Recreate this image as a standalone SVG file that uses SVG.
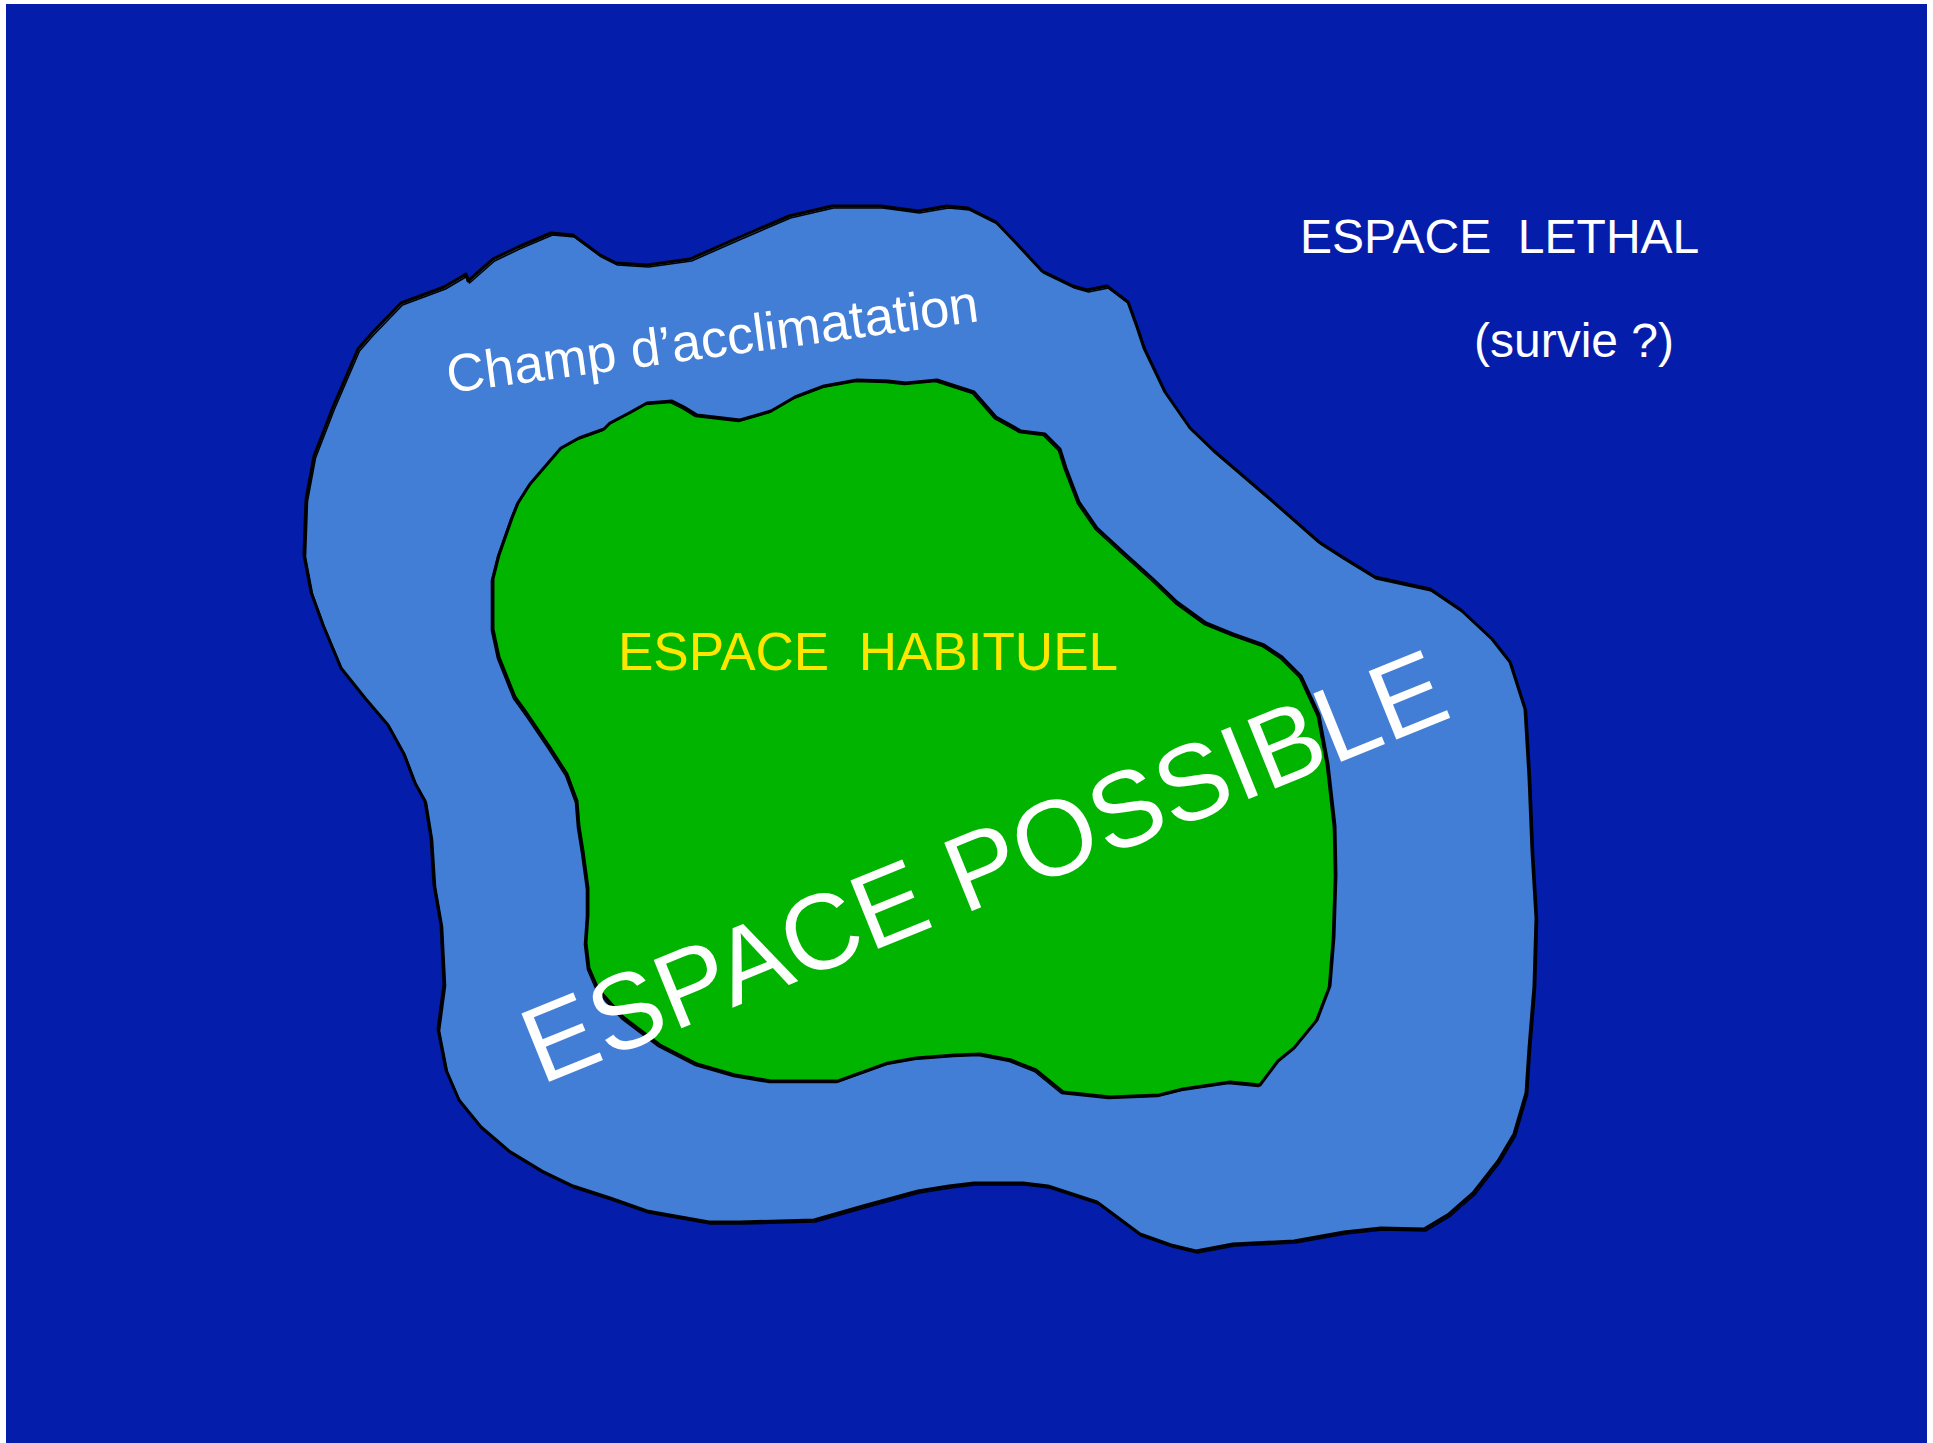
<svg xmlns="http://www.w3.org/2000/svg" width="1933" height="1443" viewBox="0 0 1933 1443">
<style>
.outline{stroke:#000;stroke-width:3;stroke-linejoin:round}
.sketch{fill:none;stroke:#000;stroke-width:1.6;stroke-linejoin:round}
.lbl{font-family:"Liberation Sans",Arial,sans-serif}
.white{fill:#fff}
</style>
<rect x="0" y="0" width="1933" height="1443" fill="#fff"/>
<rect id="lethal-space" x="6" y="4" width="1921" height="1439" fill="#041DAB"/>
<g id="acclimatation-field">
<polygon class="outline" fill="#427ED6" points="468,281 493,259 518,247 551,233 573,235 600,255 616,263 647,265 690,259 740,237 789,216 832,206 881,206 918,211 947,206 968,208 996,222 1017,244 1042,271 1073,286 1087,290 1107,286 1128,302 1137,327 1144,348 1165,392 1190,428 1214,451 1270,499 1319,542 1344,558 1375,577 1430,589 1461,610 1492,639 1510,662 1525,709 1529,777 1532,851 1536,918 1534,986 1529,1048 1526,1093 1514,1134 1498,1161 1473,1193 1449,1214 1424,1229 1381,1228 1344,1232 1294,1241 1233,1244 1196,1251 1171,1245 1140,1234 1097,1202 1048,1186 1023,1183 974,1183 949,1186 918,1191 863,1206 814,1220 740,1222 709,1222 647,1211 610,1198 573,1186 542,1171 509,1151 481,1127 459,1100 446,1070 438,1029 444,984 441,925 434,885 431,838 425,801 415,783 404,754 388,725 365,698 341,668 323,625 311,592 304,555 306,499 314,456 333,407 358,349 372,333 401,303 444,287 466,274"/>
<polygon class="sketch" transform="translate(1.5,2)" points="468,281 493,259 518,247 551,233 573,235 600,255 616,263 647,265 690,259 740,237 789,216 832,206 881,206 918,211 947,206 968,208 996,222 1017,244 1042,271 1073,286 1087,290 1107,286 1128,302 1137,327 1144,348 1165,392 1190,428 1214,451 1270,499 1319,542 1344,558 1375,577 1430,589 1461,610 1492,639 1510,662 1525,709 1529,777 1532,851 1536,918 1534,986 1529,1048 1526,1093 1514,1134 1498,1161 1473,1193 1449,1214 1424,1229 1381,1228 1344,1232 1294,1241 1233,1244 1196,1251 1171,1245 1140,1234 1097,1202 1048,1186 1023,1183 974,1183 949,1186 918,1191 863,1206 814,1220 740,1222 709,1222 647,1211 610,1198 573,1186 542,1171 509,1151 481,1127 459,1100 446,1070 438,1029 444,984 441,925 434,885 431,838 425,801 415,783 404,754 388,725 365,698 341,668 323,625 311,592 304,555 306,499 314,456 333,407 358,349 372,333 401,303 444,287 466,274"/>
</g>
<g id="habitual-space">
<polygon class="outline" fill="#00B400" points="493,579 499,555 512,518 518,503 530,484 561,448 579,438 604,429 610,423 629,413 647,403 672,401 684,407 697,415 740,420 771,411 795,397 824,386 857,380 888,381 906,383 937,380 974,392 996,417 1021,431 1045,434 1060,449 1066,468 1079,502 1097,528 1122,551 1153,579 1177,602 1206,623 1233,634 1264,645 1282,657 1301,676 1319,715 1328,764 1335,826 1336,875 1334,937 1330,986 1317,1020 1294,1048 1278,1061 1260,1085 1230,1082 1183,1089 1159,1095 1110,1097 1063,1092 1036,1070 1011,1060 980,1054 955,1055 916,1058 888,1063 838,1081 801,1081 771,1081 735,1075 697,1064 660,1045 623,1017 598,989 589,968 586,943 588,915 588,888 583,851 579,826 577,801 567,774 549,746 528,715 515,697 499,657 493,629"/>
<polygon class="sketch" transform="translate(-1.5,1.5)" points="493,579 499,555 512,518 518,503 530,484 561,448 579,438 604,429 610,423 629,413 647,403 672,401 684,407 697,415 740,420 771,411 795,397 824,386 857,380 888,381 906,383 937,380 974,392 996,417 1021,431 1045,434 1060,449 1066,468 1079,502 1097,528 1122,551 1153,579 1177,602 1206,623 1233,634 1264,645 1282,657 1301,676 1319,715 1328,764 1335,826 1336,875 1334,937 1330,986 1317,1020 1294,1048 1278,1061 1260,1085 1230,1082 1183,1089 1159,1095 1110,1097 1063,1092 1036,1070 1011,1060 980,1054 955,1055 916,1058 888,1063 838,1081 801,1081 771,1081 735,1075 697,1064 660,1045 623,1017 598,989 589,968 586,943 588,915 588,888 583,851 579,826 577,801 567,774 549,746 528,715 515,697 499,657 493,629"/>
</g>
<g id="labels">
<text id="lbl-lethal" class="lbl white" x="1300" y="253" font-size="48" xml:space="preserve">ESPACE  LETHAL</text>
<text id="lbl-survie" class="lbl white" x="1474" y="357" font-size="48">(survie ?)</text>
<text id="lbl-champ" class="lbl white" x="449" y="393" font-size="53" transform="rotate(-7.7 449 393)">Champ d’acclimatation</text>
<text id="lbl-habituel" class="lbl" fill="#FFE600" x="618" y="670" font-size="54" textLength="500" lengthAdjust="spacingAndGlyphs" xml:space="preserve">ESPACE  HABITUEL</text>
<text id="lbl-possible" class="lbl white" x="541" y="1085" font-size="107" transform="rotate(-22 541 1085)">ESPACE POSSIBLE</text>
</g>
</svg>
